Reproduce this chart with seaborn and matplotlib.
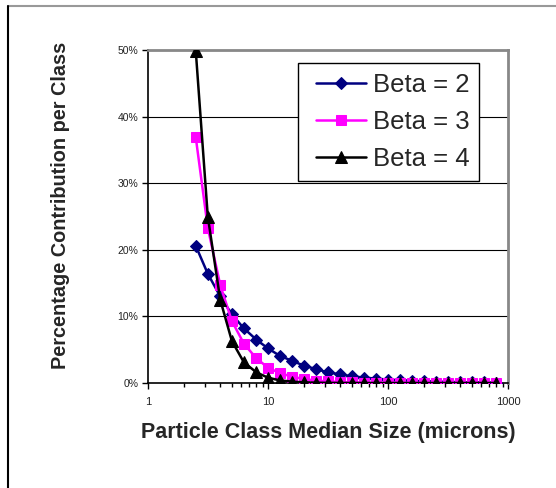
import numpy as np
import pandas as pd
import matplotlib
matplotlib.use("Agg")
import matplotlib.pyplot as plt
import seaborn as sns
from matplotlib.ticker import PercentFormatter, FixedLocator, NullFormatter, FixedFormatter
from matplotlib.lines import Line2D
from matplotlib.legend_handler import HandlerLine2D

sizes = [2.5, 3.15, 4, 5, 6.3, 8, 10, 12.5, 16, 20, 25, 31.5, 40, 50, 63, 80,
         100, 125, 160, 200, 250, 315, 400, 500, 630, 800]
beta2 = [20.6, 16.4, 13.0, 10.3, 8.2, 6.5, 5.2, 4.1, 3.3, 2.6, 2.1, 1.6, 1.3,
         1.0, 0.82, 0.65, 0.52, 0.41, 0.33, 0.26, 0.21, 0.16, 0.13, 0.10, 0.08, 0.07]
beta3 = [36.9, 23.3, 14.7, 9.3, 5.9, 3.7, 2.3, 1.5, 0.93, 0.59, 0.37, 0.23, 0.15,
         0.09, 0.06, 0.04, 0.02, 0.015, 0.01, 0.006, 0.004, 0.002, 0.0015, 0.001, 0.0006, 0.0004]
beta4 = [49.9, 25.0, 12.5, 6.3, 3.1, 1.6, 0.8, 0.4, 0.2, 0.1, 0.05, 0.02, 0.01,
         0.006, 0.003, 0.0015, 0.0008, 0.0004, 0.0002, 0.0001, 0.0, 0.0, 0.0, 0.0, 0.0, 0.0]
series_names = ["Beta = 2", "Beta = 3", "Beta = 4"]
y_ticks = [0, 10, 20, 30, 40, 50]
x_ticks = [1, 10, 100, 1000]
x_tick_labels = ["1", "10", "100", "1000"]

sns.set_style("white")
plt.rcParams['font.family'] = ['Liberation Sans', 'DejaVu Sans']

fig = plt.figure(figsize=(5.56, 4.88), dpi=100)
ax = fig.add_axes([148/556, 1 - 383/488, (508 - 148)/556, (383 - 50)/488])

styles = [
    dict(color="#000080", marker="D", markersize=6.5),
    dict(color="#FF00FF", marker="s", markersize=7.5),
    dict(color="#000000", marker="^", markersize=8),
]
for name, vals, st in zip(series_names, [beta2, beta3, beta4], styles):
    df = pd.DataFrame({"size": sizes, "pct": vals})
    sns.lineplot(data=df, x="size", y="pct", ax=ax, label=name, color=st["color"],
                 marker=st["marker"], markersize=st["markersize"],
                 markeredgecolor=st["color"], markerfacecolor=st["color"],
                 linewidth=1.8, zorder=3)

ax.set_xscale("log")
ax.set_xlim(1, 1000)
ax.set_ylim(0, 50)

ax.xaxis.set_major_locator(FixedLocator(x_ticks))
ax.xaxis.set_major_formatter(FixedFormatter(x_tick_labels))
minors = [m * 10**e for e in range(0, 3) for m in range(2, 10)]
ax.xaxis.set_minor_locator(FixedLocator(minors))
ax.xaxis.set_minor_formatter(NullFormatter())
ax.set_yticks(y_ticks)
ax.yaxis.set_major_formatter(PercentFormatter(100, decimals=0))

for yv in y_ticks[1:]:
    ax.axhline(yv, color="black", linewidth=0.8, zorder=1)

ax.tick_params(axis="both", which="major", direction="out", length=4, width=1,
               labelsize=7.5, color="black", labelcolor="#222222", pad=3,
               bottom=True, left=True)
ax.tick_params(axis="x", which="minor", direction="out", length=3, width=1,
               color="black", bottom=True)
ax.tick_params(axis="x", which="major", pad=6, labelsize=8)

for side in ["left", "bottom"]:
    ax.spines[side].set_color("black")
    ax.spines[side].set_linewidth(1.2)
for side in ["top", "right"]:
    ax.spines[side].set_color("#888888")
    ax.spines[side].set_linewidth(2)
    ax.spines[side].set_visible(True)

ax.set_xlabel("Particle Class Median Size (microns)", fontsize=15.5, fontweight="bold", labelpad=11)
ax.set_ylabel("Percentage Contribution per Class", fontsize=14.3, fontweight="bold", labelpad=34)
ax.yaxis.label.set_y(0.533)

handles, labels = ax.get_legend_handles_labels()
leg = ax.legend(handles, labels, loc="upper left", bbox_to_anchor=(0.4167, 0.961), fontsize=18.5,
                frameon=True, fancybox=False, edgecolor="black", framealpha=1,
                handlelength=2.25, handletextpad=0.25, borderpad=0.4, labelspacing=0.5,
                borderaxespad=0,
                handler_map={h: HandlerLine2D(xpad=0.3) for h in handles})
leg.get_frame().set_linewidth(1.0)

fig.add_artist(Line2D([8/556, 1.0], [1 - 6/488, 1 - 6/488], color="#999999", linewidth=1.5,
                      transform=fig.transFigure))
fig.add_artist(Line2D([8/556, 8/556], [0, 1 - 6/488], color="black", linewidth=1.5,
                      transform=fig.transFigure))

fig.savefig("out.png", dpi=100, facecolor="white")
